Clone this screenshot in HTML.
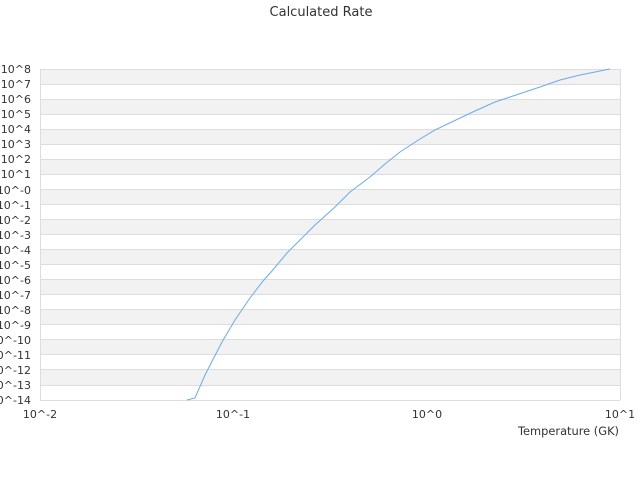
<!DOCTYPE html>
<html><head><style>body{margin:0;background:#fff}</style></head><body>
<svg width="640" height="480" xmlns="http://www.w3.org/2000/svg" font-family="DejaVu Sans, sans-serif" font-size="11" fill="#333">
<rect width="640" height="480" fill="#fff"/>
<text x="321" y="16" text-anchor="middle" font-size="13">Calculated Rate</text>
<g fill="#f2f2f2">
<rect x="40" y="69" width="580" height="15.05"/>
<rect x="40" y="99.1" width="580" height="15.05"/>
<rect x="40" y="129.2" width="580" height="15.05"/>
<rect x="40" y="159.3" width="580" height="15.05"/>
<rect x="40" y="189.4" width="580" height="15.05"/>
<rect x="40" y="219.5" width="580" height="15.05"/>
<rect x="40" y="249.6" width="580" height="15.05"/>
<rect x="40" y="279.7" width="580" height="15.05"/>
<rect x="40" y="309.8" width="580" height="15.05"/>
<rect x="40" y="339.9" width="580" height="15.05"/>
<rect x="40" y="370" width="580" height="15.05"/>
</g>
<g stroke="#ddd" stroke-width="1">
<line x1="40" x2="620" y1="69.5" y2="69.5"/><line x1="40" x2="620" y1="84.5" y2="84.5"/><line x1="40" x2="620" y1="99.5" y2="99.5"/><line x1="40" x2="620" y1="114.5" y2="114.5"/><line x1="40" x2="620" y1="129.5" y2="129.5"/><line x1="40" x2="620" y1="144.5" y2="144.5"/><line x1="40" x2="620" y1="159.5" y2="159.5"/><line x1="40" x2="620" y1="174.5" y2="174.5"/><line x1="40" x2="620" y1="189.5" y2="189.5"/><line x1="40" x2="620" y1="204.5" y2="204.5"/><line x1="40" x2="620" y1="219.5" y2="219.5"/><line x1="40" x2="620" y1="234.5" y2="234.5"/><line x1="40" x2="620" y1="249.5" y2="249.5"/><line x1="40" x2="620" y1="264.5" y2="264.5"/><line x1="40" x2="620" y1="279.5" y2="279.5"/><line x1="40" x2="620" y1="294.5" y2="294.5"/><line x1="40" x2="620" y1="309.5" y2="309.5"/><line x1="40" x2="620" y1="324.5" y2="324.5"/><line x1="40" x2="620" y1="339.5" y2="339.5"/><line x1="40" x2="620" y1="354.5" y2="354.5"/><line x1="40" x2="620" y1="369.5" y2="369.5"/><line x1="40" x2="620" y1="385.5" y2="385.5"/>
<line x1="40.5" x2="40.5" y1="69" y2="400"/><line x1="620.5" x2="620.5" y1="69" y2="400"/>
<line x1="40" x2="620" y1="400.5" y2="400.5"/>
</g>
<g text-anchor="end">
<text x="31" y="73">10^8</text><text x="31" y="88">10^7</text><text x="31" y="103">10^6</text><text x="31" y="118">10^5</text><text x="31" y="133">10^4</text><text x="31" y="148">10^3</text><text x="31" y="163">10^2</text><text x="31" y="178">10^1</text><text x="31" y="194">10^-0</text><text x="31" y="209">10^-1</text><text x="31" y="224">10^-2</text><text x="31" y="239">10^-3</text><text x="31" y="254">10^-4</text><text x="31" y="269">10^-5</text><text x="31" y="284">10^-6</text><text x="31" y="299">10^-7</text><text x="31" y="314">10^-8</text><text x="31" y="329">10^-9</text><text x="31" y="344">10^-10</text><text x="31" y="359">10^-11</text><text x="31" y="374">10^-12</text><text x="31" y="389">10^-13</text><text x="31" y="404">10^-14</text>
</g>
<g text-anchor="middle">
<text x="40" y="418">10^-2</text><text x="233" y="418">10^-1</text><text x="427" y="418">10^0</text><text x="620" y="418">10^1</text>
</g>
<text x="619" y="435" text-anchor="end" font-size="11.4">Temperature (GK)</text>
<polyline fill="none" stroke="#6aaaf0" stroke-width="1" points="187,400 195,398 205,375 222,342 235,320 250,298 263,281 272,271 287,253 300,240 315,225 335,207 350,192 370,177 385,164 400,152 420,139 435,130 458,119 475,111 495,102 510,97 540,87 560,80 580,75 610,69"/>
</svg>
</body></html>
